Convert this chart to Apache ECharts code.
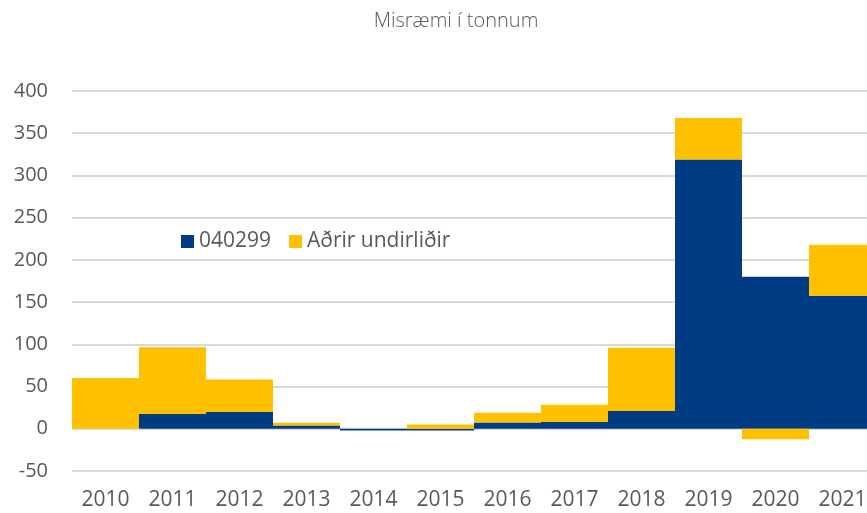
<!DOCTYPE html>
<html>
<head>
<meta charset="utf-8">
<script src="https://cdn.jsdelivr.net/npm/echarts@6/dist/echarts.min.js"></script>
<style>
  html, body { margin: 0; padding: 0; background: #fff; overflow: hidden; width: 867px; height: 513px; }
  /* Canvas is slightly wider than the page so the last column is clipped at the edge */
  #chart { width: 876px; height: 513px; }
</style>
</head>
<body>
<div id="chart"></div>
<script>
// Ár
const years = ['2010', '2011', '2012', '2013', '2014', '2015', '2016', '2017', '2018', '2019', '2020', '2021'];
// Tollskrárnúmer 040299
const series040299 = [0, 17.5, 20, 4, -2, -2, 7.5, 8, 21, 319, 180, 157.5];
// Aðrir undirliðir
const otherItems = [60, 79, 38.5, 3, 0, 5, 11.5, 20.5, 75, 49, -12.5, 60.5];
// Gildi á lóðréttum ás
const yTicks = { min: -50, max: 400, step: 50 };

const textColor = '#595959';
const fontFamily = '"Open Sans", "Noto Sans", sans-serif';

const chart = echarts.init(document.getElementById('chart'), null, { renderer: 'canvas' });

chart.setOption({
  animation: false,
  textStyle: { fontFamily: fontFamily },
  title: {
    text: 'Misræmi í tonnum',
    left: 451,
    textAlign: 'center',
    top: 6,
    textStyle: { color: textColor, fontSize: 20, fontWeight: 300, fontFamily: fontFamily }
  },
  legend: {
    left: 176,
    top: 226,
    itemWidth: 13,
    itemHeight: 13,
    itemGap: 18,
    icon: 'rect',
    textStyle: { color: textColor, fontSize: 21, fontFamily: fontFamily },
    data: ['040299', 'Aðrir undirliðir']
  },
  grid: { left: 72, right: 0, top: 91, bottom: 42, containLabel: false },
  xAxis: {
    type: 'category',
    data: years,
    position: 'bottom',
    axisLine: { show: false, onZero: false },
    axisTick: { show: false },
    axisLabel: { color: textColor, fontSize: 21, margin: 19, fontFamily: fontFamily }
  },
  yAxis: {
    type: 'value',
    min: yTicks.min,
    max: yTicks.max,
    interval: yTicks.step,
    axisLine: { show: false },
    axisTick: { show: false },
    axisLabel: { color: textColor, fontSize: 20, margin: 24, fontFamily: fontFamily },
    splitLine: { show: true, lineStyle: { color: '#d9d9d9', width: 2 } }
  },
  series: [
    {
      name: '040299',
      type: 'bar',
      stack: 'total',
      barCategoryGap: '0%',
      itemStyle: { color: '#003c84' },
      data: series040299
    },
    {
      name: 'Aðrir undirliðir',
      type: 'bar',
      stack: 'total',
      barCategoryGap: '0%',
      itemStyle: { color: '#ffc000' },
      data: otherItems
    }
  ]
});
</script>
</body>
</html>
